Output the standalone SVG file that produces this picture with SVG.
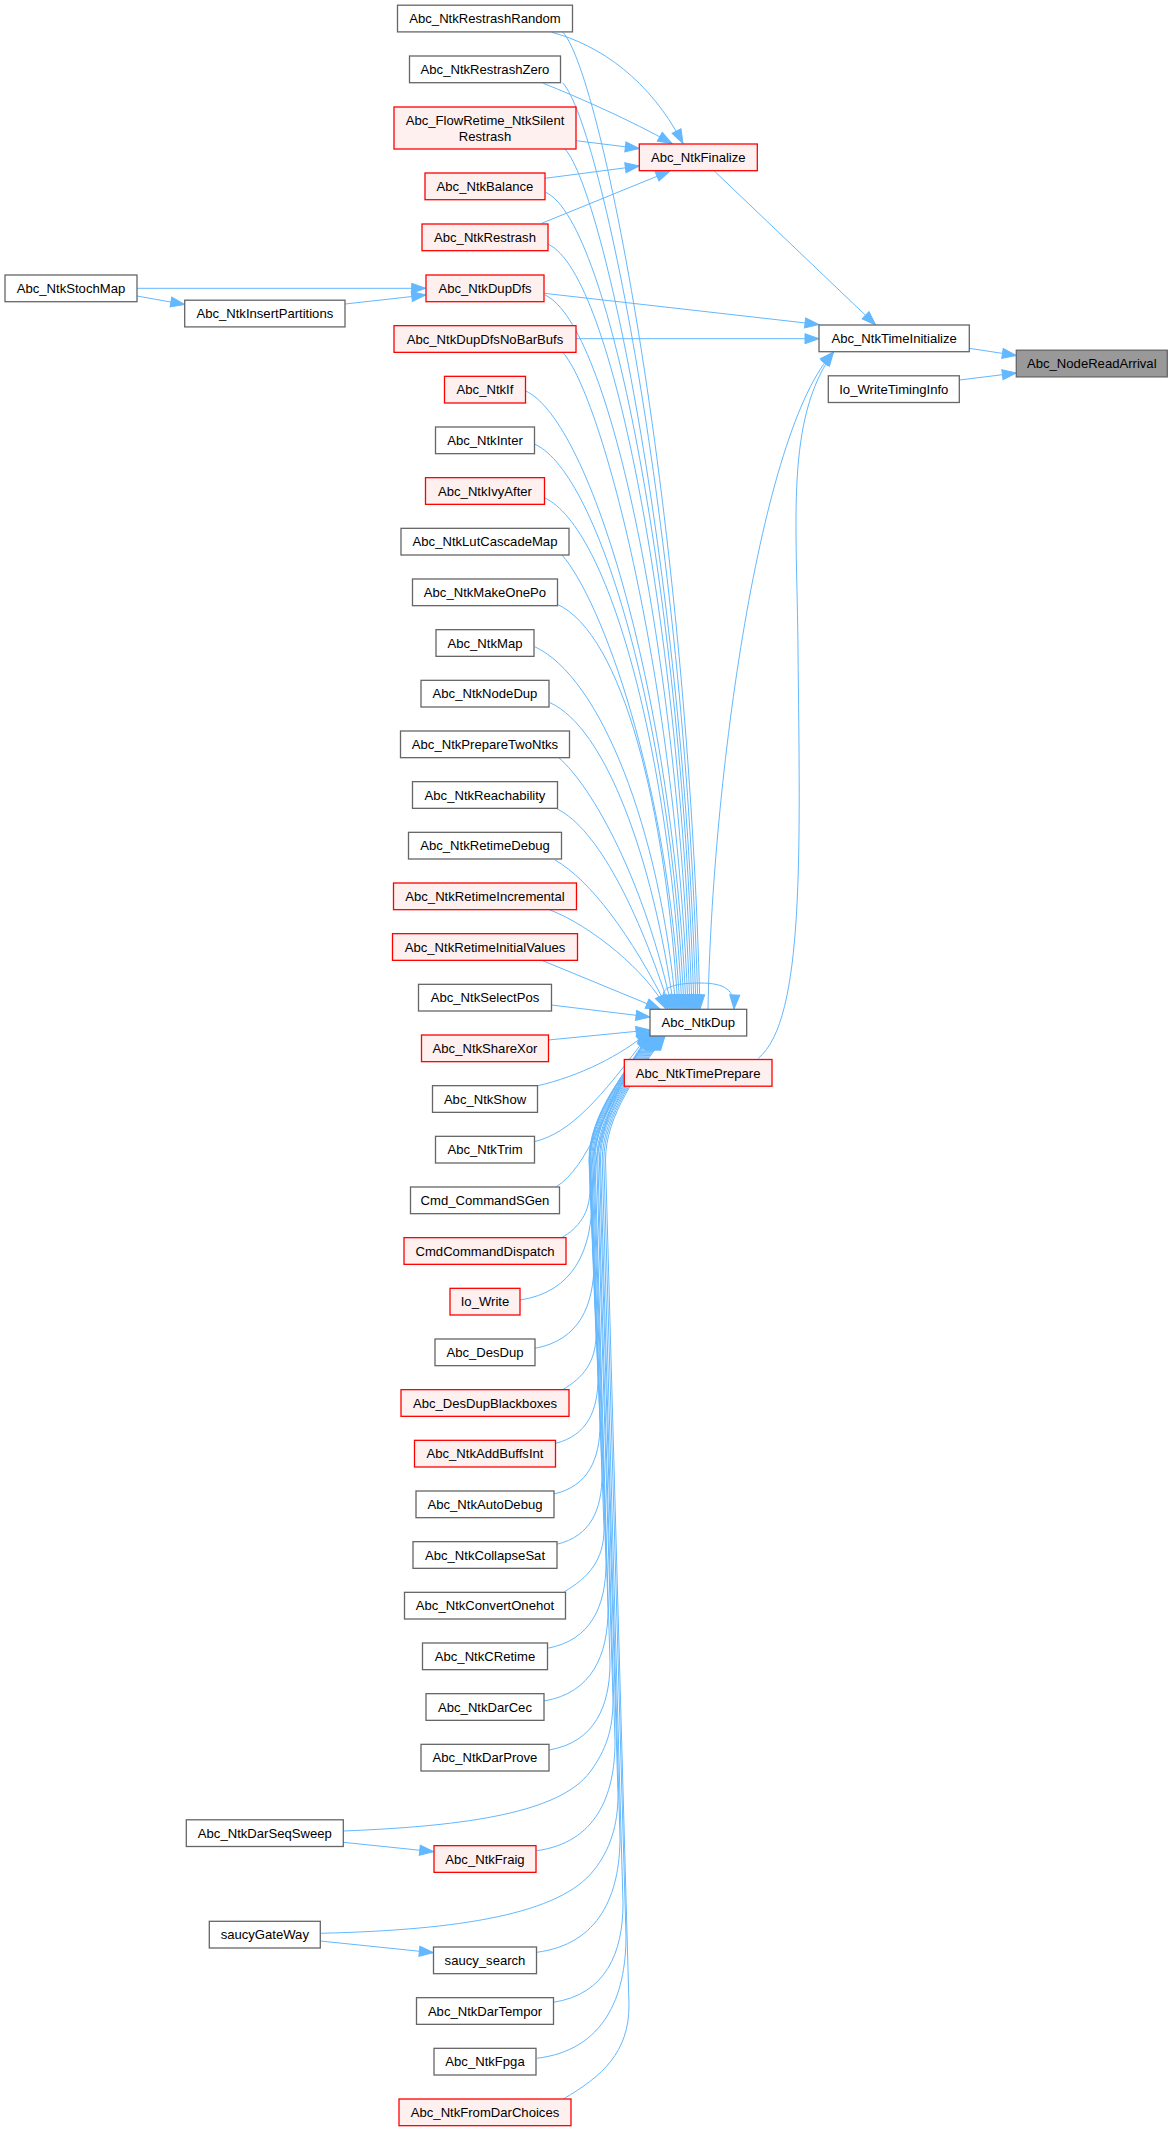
<svg xmlns="http://www.w3.org/2000/svg" width="1173" height="2131" viewBox="0 0 1173 2131">
<defs>
<marker id="ah" markerUnits="userSpaceOnUse" markerWidth="14" markerHeight="10" refX="14" refY="5" orient="auto" overflow="visible">
<path d="M0,0 L14,5 L0,10 z" fill="#63b8ff" stroke="#63b8ff" stroke-width="1"/>
</marker>
</defs>
<style>
.g rect{fill:#ffffff;stroke:#666666;stroke-width:1.3}
.r rect{fill:#fff0f0;stroke:#ff0000;stroke-width:1.3}
.h rect{fill:#999999;stroke:#666666;stroke-width:1.3}
text{font-family:"Liberation Sans",Arial,Helvetica,sans-serif;font-size:13.1px;fill:#000000;text-anchor:middle}
#edges path{fill:none;stroke:#63b8ff;stroke-width:1;marker-end:url(#ah)}
</style>
<rect x="0" y="0" width="1173" height="2131" fill="#ffffff"/>
<g id="edges">
<path d="M969.3,348.3 L1016.3,355.5"/>
<path d="M959.3,380 L1016.3,373"/>
<path d="M714.3,171 L875.7,325"/>
<path d="M544.3,293.3 L819,324.5"/>
<path d="M576,338.7 L819,338.7"/>
<path d="M708,1009 C712,780 760,430 833.5,352"/>
<path d="M758.3,1058.3 C805,1020 800,850 798,650 C797,520 785,420 833.5,352"/>
<path d="M551.7,32.3 C600,45 650,80 683,143.5"/>
<path d="M543.3,83.3 C580,98 630,120 672,143.5"/>
<path d="M576,140.7 L639.3,148.5"/>
<path d="M545,178.3 L639.3,166"/>
<path d="M541.7,223.3 L670,171"/>
<path d="M137,288.3 L425.7,288.3"/>
<path d="M345,304 L425.7,295"/>
<path d="M137,296 L184.7,304.5"/>
<path d="M343.3,1842.3 L433.7,1851.7"/>
<path d="M320.3,1941 L433.3,1952.7"/>
<path d="M674,1009 C652,992 665,983 700,983 C725,983 735,990 734,1009"/>
<path d="M563,32.3 C603,77.3 688,520.7 700,1009"/>
<path d="M562.7,82.7 C602.7,127.7 686,545.9 698,1009"/>
<path d="M565,149 C605,194 684,579 696,1009"/>
<path d="M545.7,192.3 C610.7,222.3 682,600.7 694,1009"/>
<path d="M548.3,244.3 C613.3,274.3 680,626.7 692,1009"/>
<path d="M545,295 C610,325 678,652 690,1009"/>
<path d="M562.7,352.3 C602.7,397.3 676,680.7 688,1009"/>
<path d="M525.7,391 C590.7,421 674,700 686,1009"/>
<path d="M535,444.3 C600,474.3 672,726.7 684,1009"/>
<path d="M544.3,497.7 C609.3,527.7 670,753.4 682,1009"/>
<path d="M561.7,554.7 C601.7,599.7 668,781.9 680,1009"/>
<path d="M557.3,604.3 C622.3,634.3 666,806.7 678,1009"/>
<path d="M534.7,646.7 C599.7,676.7 660.2,827.9 676,1009"/>
<path d="M550,702.7 C605,727.7 652.6,855.9 674,1009"/>
<path d="M558.3,757.3 C593.3,787.3 645.2,883.2 672,1009"/>
<path d="M557.3,809 C597.3,829 638,909 670,1009"/>
<path d="M555,860 C590,880 631,934.5 668,1009"/>
<path d="M550,910 C590,925 648,972 666,1009"/>
<path d="M541,960 L660,1009"/>
<path d="M551.3,1005 L650,1017"/>
<path d="M548.3,1040 L650,1030"/>
<path d="M536.7,1086 C580,1076 620,1056 650,1031"/>
<path d="M534.3,1141.7 C570,1133 600,1100 650,1032"/>
<path d="M556,1187 C590,1165 602,1110 650,1033"/>
<path d="M561.7,1237.7 C578.7,1227.8 590,1213.2 590,1188.7 C590,1130 624,1069 650,1034"/>
<path d="M520,1300 C574,1292 592,1249.3 592,1198.6 C592,1140 624,1070 650,1035"/>
<path d="M535,1348.3 C579.3,1340.3 594,1305.4 594,1262.5 L590,1160 C590,1115 624.5,1071 650.5,1036"/>
<path d="M562.7,1389.7 C582.7,1378 596,1362.2 596,1334.7 L589,1160 C589,1115 625,1071 651,1036"/>
<path d="M555.7,1443.3 C587.4,1435.3 598,1410.4 598,1377.5 L589.3,1160 C589.3,1115 626,1071 652,1036"/>
<path d="M554,1494 C588.5,1486 600,1458.9 600,1423.8 L589.5,1160 C589.5,1115 627,1071 653,1036"/>
<path d="M556.7,1544.3 C590.7,1536.3 602,1509.6 602,1474.9 L590.6,1160 C590.6,1115 628,1071 654,1036"/>
<path d="M564.3,1591.7 C588.1,1577.8 604,1560.4 604,1529.1 L591.7,1160 C591.7,1115 629,1071 655,1036"/>
<path d="M547.3,1648.3 C591.3,1640.3 606,1605.6 606,1562.9 L592.8,1160 C592.8,1115 630,1071 656,1036"/>
<path d="M544,1701 C592,1693 608,1655.1 608,1609.2 L593.9,1160 C593.9,1115 631,1071 657,1036"/>
<path d="M549.3,1750 C594.8,1742 610,1706.1 610,1662.2 L595,1160 C595,1115 632,1071 658,1036"/>
<path d="M343.3,1831 C470,1826 560,1812 590,1772 C606,1750 613,1730 613,1700 L596.7,1160 C596.7,1115 633,1071 659,1036"/>
<path d="M536.7,1850.7 C595.4,1842.7 615,1796.2 615,1741.7 L597.8,1160 C597.8,1115 634,1071 660,1036"/>
<path d="M320.3,1933.3 C460,1930 560,1914 594,1870 C610,1850 618,1825 618,1795 L599.4,1160 C599.4,1115 635,1071 661,1036"/>
<path d="M536.7,1952.3 C599.2,1944.3 620,1894.8 620,1837.3 L600.5,1160 C600.5,1115 636,1071 662,1036"/>
<path d="M553.3,2002.3 C605.6,1994.3 623,1953 623,1903.7 L602.2,1160 C602.2,1115 637,1071 663,1036"/>
<path d="M536.7,2058.3 C603.7,2050.3 626,1997.2 626,1936.1 L603.8,1160 C603.8,1115 638,1071 664,1036"/>
<path d="M563.3,2099 C602.7,2076 629,2052.1 629,2005.2 L605.5,1160 C605.5,1115 639,1071 665,1036"/>
</g>
<g id="n_NodeReadArrival" class="h"><rect x="1016.3" y="350.2" width="151" height="26.7"/><text x="1091.8" y="368.3">Abc_NodeReadArrival</text></g>
<g id="n_TimeInitialize" class="g"><rect x="819" y="325" width="150.3" height="26.7"/><text x="894.15" y="343">Abc_NtkTimeInitialize</text></g>
<g id="n_WriteTimingInfo" class="g"><rect x="828.3" y="375.8" width="131" height="26.7"/><text x="893.8" y="393.9">Io_WriteTimingInfo</text></g>
<g id="n_Finalize" class="r"><rect x="639.3" y="144" width="118" height="26.7"/><text x="698.3" y="162">Abc_NtkFinalize</text></g>
<g id="n_Dup" class="g"><rect x="650" y="1009.3" width="96.7" height="26.7"/><text x="698.35" y="1027.4">Abc_NtkDup</text></g>
<g id="n_TimePrepare" class="r"><rect x="624.3" y="1059.5" width="147.7" height="26.7"/><text x="698.15" y="1077.6">Abc_NtkTimePrepare</text></g>
<g id="n_StochMap" class="g"><rect x="5" y="275" width="132" height="26.7"/><text x="71" y="293">Abc_NtkStochMap</text></g>
<g id="n_InsertPartitions" class="g"><rect x="184.7" y="300.2" width="160.3" height="26.7"/><text x="264.85" y="318.2">Abc_NtkInsertPartitions</text></g>
<g id="n_DarSeqSweep" class="g"><rect x="186.3" y="1819.8" width="157" height="26.7"/><text x="264.8" y="1837.9">Abc_NtkDarSeqSweep</text></g>
<g id="n_saucyGateWay" class="g"><rect x="209.3" y="1921.3" width="111" height="26.7"/><text x="264.8" y="1939.4">saucyGateWay</text></g>
<g id="n_RestrashRandom" class="g"><rect x="397.5" y="5.2" width="175" height="26.7"/><text x="485" y="23.2">Abc_NtkRestrashRandom</text></g>
<g id="n_RestrashZero" class="g"><rect x="409.5" y="56" width="151" height="26.7"/><text x="485" y="74">Abc_NtkRestrashZero</text></g>
<g id="n_FlowRetime" class="r"><rect x="394" y="107" width="182" height="42"/><text x="485" y="124.7">Abc_FlowRetime_NtkSilent</text><text x="485" y="140.7">Restrash</text></g>
<g id="n_Balance" class="r"><rect x="425" y="173" width="120" height="26.7"/><text x="485" y="191.2">Abc_NtkBalance</text></g>
<g id="n_Restrash" class="r"><rect x="422" y="224" width="126" height="26.7"/><text x="485" y="242">Abc_NtkRestrash</text></g>
<g id="n_DupDfs" class="r"><rect x="426" y="275" width="118" height="26.7"/><text x="485" y="293">Abc_NtkDupDfs</text></g>
<g id="n_DupDfsNoBarBufs" class="r"><rect x="394" y="325.67" width="182" height="26.67"/><text x="485" y="343.7">Abc_NtkDupDfsNoBarBufs</text></g>
<g id="n_If" class="r"><rect x="444.5" y="376.33" width="81" height="26.67"/><text x="485" y="394.37">Abc_NtkIf</text></g>
<g id="n_Inter" class="g"><rect x="435.5" y="427" width="99" height="26.67"/><text x="485" y="445.03">Abc_NtkInter</text></g>
<g id="n_IvyAfter" class="r"><rect x="425.5" y="477.67" width="119" height="26.67"/><text x="485" y="495.7">Abc_NtkIvyAfter</text></g>
<g id="n_LutCascadeMap" class="g"><rect x="401" y="528.33" width="168" height="26.67"/><text x="485" y="546.37">Abc_NtkLutCascadeMap</text></g>
<g id="n_MakeOnePo" class="g"><rect x="412.5" y="579" width="145" height="26.67"/><text x="485" y="597.03">Abc_NtkMakeOnePo</text></g>
<g id="n_Map" class="g"><rect x="436" y="629.67" width="98" height="26.67"/><text x="485" y="647.7">Abc_NtkMap</text></g>
<g id="n_NodeDup" class="g"><rect x="421" y="680.33" width="128" height="26.67"/><text x="485" y="698.37">Abc_NtkNodeDup</text></g>
<g id="n_PrepareTwoNtks" class="g"><rect x="400.5" y="731" width="169" height="26.67"/><text x="485" y="749.03">Abc_NtkPrepareTwoNtks</text></g>
<g id="n_Reachability" class="g"><rect x="412.5" y="781.67" width="145" height="26.67"/><text x="485" y="799.7">Abc_NtkReachability</text></g>
<g id="n_RetimeDebug" class="g"><rect x="408.5" y="832.33" width="153" height="26.67"/><text x="485" y="850.37">Abc_NtkRetimeDebug</text></g>
<g id="n_RetimeIncremental" class="r"><rect x="393.5" y="883" width="183" height="26.67"/><text x="485" y="901.03">Abc_NtkRetimeIncremental</text></g>
<g id="n_RetimeInitialValues" class="r"><rect x="392.5" y="933.67" width="185" height="26.67"/><text x="485" y="951.7">Abc_NtkRetimeInitialValues</text></g>
<g id="n_SelectPos" class="g"><rect x="418.5" y="984.33" width="133" height="26.67"/><text x="485" y="1002.37">Abc_NtkSelectPos</text></g>
<g id="n_ShareXor" class="r"><rect x="421.5" y="1035" width="127" height="26.67"/><text x="485" y="1053.03">Abc_NtkShareXor</text></g>
<g id="n_Show" class="g"><rect x="432.5" y="1085.67" width="105" height="26.67"/><text x="485" y="1103.7">Abc_NtkShow</text></g>
<g id="n_Trim" class="g"><rect x="435.5" y="1136.33" width="99" height="26.67"/><text x="485" y="1154.37">Abc_NtkTrim</text></g>
<g id="n_CommandSGen" class="g"><rect x="410.5" y="1187" width="149" height="26.67"/><text x="485" y="1205.03">Cmd_CommandSGen</text></g>
<g id="n_CommandDispatch" class="r"><rect x="404" y="1237.67" width="162" height="26.67"/><text x="485" y="1255.7">CmdCommandDispatch</text></g>
<g id="n_IoWrite" class="r"><rect x="450" y="1288.33" width="70" height="26.67"/><text x="485" y="1306.37">Io_Write</text></g>
<g id="n_DesDup" class="g"><rect x="435" y="1339" width="100" height="26.67"/><text x="485" y="1357.03">Abc_DesDup</text></g>
<g id="n_DesDupBlackboxes" class="r"><rect x="401" y="1389.67" width="168" height="26.67"/><text x="485" y="1407.7">Abc_DesDupBlackboxes</text></g>
<g id="n_AddBuffsInt" class="r"><rect x="414.5" y="1440.33" width="141" height="26.67"/><text x="485" y="1458.37">Abc_NtkAddBuffsInt</text></g>
<g id="n_AutoDebug" class="g"><rect x="416" y="1491" width="138" height="26.67"/><text x="485" y="1509.03">Abc_NtkAutoDebug</text></g>
<g id="n_CollapseSat" class="g"><rect x="413" y="1541.67" width="144" height="26.67"/><text x="485" y="1559.7">Abc_NtkCollapseSat</text></g>
<g id="n_ConvertOnehot" class="g"><rect x="404.5" y="1592.33" width="161" height="26.67"/><text x="485" y="1610.37">Abc_NtkConvertOnehot</text></g>
<g id="n_CRetime" class="g"><rect x="422.5" y="1643" width="125" height="26.67"/><text x="485" y="1661.03">Abc_NtkCRetime</text></g>
<g id="n_DarCec" class="g"><rect x="426" y="1693.67" width="118" height="26.67"/><text x="485" y="1711.7">Abc_NtkDarCec</text></g>
<g id="n_DarProve" class="g"><rect x="421" y="1744.33" width="128" height="26.67"/><text x="485" y="1762.37">Abc_NtkDarProve</text></g>
<g id="n_Fraig" class="r"><rect x="434" y="1845.67" width="102" height="26.67"/><text x="485" y="1863.7">Abc_NtkFraig</text></g>
<g id="n_saucy_search" class="g"><rect x="433.5" y="1947" width="103" height="26.67"/><text x="485" y="1965.03">saucy_search</text></g>
<g id="n_DarTempor" class="g"><rect x="416.5" y="1997.67" width="137" height="26.67"/><text x="485" y="2015.7">Abc_NtkDarTempor</text></g>
<g id="n_Fpga" class="g"><rect x="434" y="2048.33" width="102" height="26.67"/><text x="485" y="2066.37">Abc_NtkFpga</text></g>
<g id="n_FromDarChoices" class="r"><rect x="399" y="2099" width="172" height="26.67"/><text x="485" y="2117.03">Abc_NtkFromDarChoices</text></g>
</svg>
